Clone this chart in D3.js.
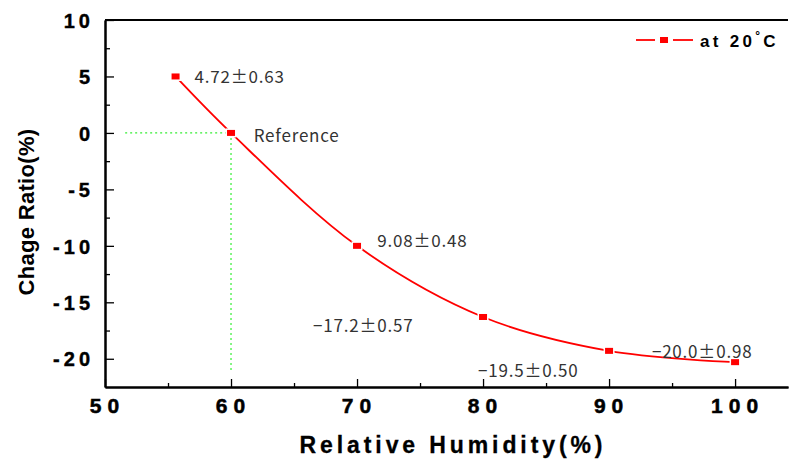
<!DOCTYPE html>
<html>
<head>
<meta charset="utf-8">
<script src="https://cdn.jsdelivr.net/npm/d3@7"></script>
<style>
  body { margin: 0; background: #fff; }
  #plot text { font-family: "Liberation Sans", Arial, sans-serif; }
  #plot text.note { font-family: "Noto Sans CJK KR", "Liberation Sans", sans-serif; }
</style>
</head>
<body>
<div id="plot"></div>
<script>
// data
var humidity = [55.6, 60, 70, 80, 90, 100];
var ratio = [5.0, 0, -10.0, -16.3, -19.3, -20.3];

// annotations (text + anchor in data units)
var noteText = ["4.72\u00b10.63", "Reference", "9.08\u00b10.48", "\u221217.2\u00b10.57", "\u221219.5\u00b10.50", "\u221220.0\u00b10.98"];
var noteX = [57.1, 61.8, 71.6, 66.5, 79.6, 93.4];
var noteY = [4.43, -0.8, -10.07, -17.6, -21.6, -19.93];

var xTicks = [50, 60, 70, 80, 90, 100];
var xMinor = [55, 65, 75, 85, 95];
var yTicks = [10, 5, 0, -5, -10, -15, -20];
var yMinor = [7.5, 2.5, -2.5, -7.5, -12.5, -17.5];

var width = 790, height = 459;
var margin = {left: 105, right: 2, top: 20, bottom: 72};

var svg = d3.select("#plot").append("svg")
    .attr("width", width)
    .attr("height", height);

var x = d3.scaleLinear().domain([50, 104.2]).range([margin.left, width - margin.right]);
var y = d3.scaleLinear().domain([-22.5, 10]).range([height - margin.bottom, margin.top]);

// reference guides
svg.append("line")
    .attr("x1", x(51.6)).attr("x2", x(60))
    .attr("y1", y(0)).attr("y2", y(0))
    .style("stroke", "#33ee33").style("stroke-width", 1.2)
    .style("stroke-dasharray", "2,3");
svg.append("line")
    .attr("x1", x(60)).attr("x2", x(60))
    .attr("y1", y(0)).attr("y2", y(-21))
    .style("stroke", "#33ee33").style("stroke-width", 1.2)
    .style("stroke-dasharray", "2,3");

// axes
var xAxis = svg.append("g")
    .attr("transform", "translate(0," + y.range()[0] + ")")
    .call(d3.axisBottom(x).tickValues(xTicks).tickSizeInner(-8).tickSizeOuter(0).tickFormat(function(d) { return d; }));
svg.append("g")
    .attr("transform", "translate(0," + y.range()[0] + ")")
    .call(d3.axisBottom(x).tickValues(xMinor).tickSizeInner(-4).tickSizeOuter(0).tickFormat(""));
xAxis.selectAll("text")
    .attr("dy", null).attr("y", 26)
    .attr("dx", 2)
    .style("font-size", "21px").style("font-weight", "bold")
    .style("letter-spacing", "6px").style("fill", "#000")
    .style("stroke", "#000").style("stroke-width", 0.5);

var yAxis = svg.append("g")
    .attr("transform", "translate(" + x.range()[0] + ",0)")
    .call(d3.axisLeft(y).tickValues(yTicks).tickSizeInner(-9).tickSizeOuter(0).tickPadding(11).tickFormat(function(d) { return String(d); }));
svg.append("g")
    .attr("transform", "translate(" + x.range()[0] + ",0)")
    .call(d3.axisLeft(y).tickValues(yMinor).tickSizeInner(-5).tickSizeOuter(0).tickFormat(""));
yAxis.selectAll("text")
    .attr("dy", "0.36em")
    .style("font-size", "20px").style("font-weight", "bold")
    .style("letter-spacing", "4px").style("fill", "#000")
    .style("stroke", "#000").style("stroke-width", 0.4);

svg.selectAll(".domain").style("stroke", "#000").style("stroke-width", 2);
svg.selectAll(".tick line").style("stroke", "#000").style("stroke-width", 1.3);

// top border
svg.append("line")
    .attr("x1", x.range()[0]).attr("x2", x.range()[1])
    .attr("y1", y.range()[1]).attr("y2", y.range()[1])
    .style("stroke", "#000").style("stroke-width", 2);

// axis titles
svg.append("text")
    .attr("x", 453).attr("y", 453)
    .attr("text-anchor", "middle")
    .style("font-size", "23px").style("font-weight", "bold")
    .style("letter-spacing", "3.9px")
    .style("stroke", "#000").style("stroke-width", 0.3)
    .text("Relative Humidity(%)");

svg.append("text")
    .attr("transform", "translate(34,212) rotate(-90)")
    .attr("text-anchor", "middle")
    .style("font-size", "22px").style("font-weight", "bold")
    .style("letter-spacing", "0.3px")
    .text("Chage Ratio(%)");

// curve
var pts = humidity.map(function(h, i) { return [h, ratio[i]]; });
var line = d3.line()
    .x(function(d) { return x(d[0]); })
    .y(function(d) { return y(d[1]); })
    .curve(d3.curveCatmullRom.alpha(0.5));

svg.append("path")
    .datum(pts)
    .attr("d", line)
    .style("fill", "none").style("stroke", "#ff0000").style("stroke-width", 1.8);

svg.selectAll(".dot")
    .data(pts)
    .enter().append("rect")
    .attr("class", "dot")
    .attr("x", function(d) { return x(d[0]) - 4; })
    .attr("y", function(d) { return y(d[1]) - 3; })
    .attr("width", 8).attr("height", 6)
    .style("fill", "#ff0000").style("stroke", "#fff").style("stroke-width", 3)
    .style("paint-order", "stroke");

// annotations
svg.selectAll(".note")
    .data(noteText)
    .enter().append("text")
    .attr("class", "note")
    .attr("x", function(d, i) { return x(noteX[i]); })
    .attr("y", function(d, i) { return y(noteY[i]); })
    .style("font-size", "17px").style("fill", "#333")
    .style("letter-spacing", "0.8px")
    .text(function(d) { return d; });

// legend
var leg = svg.append("g").attr("transform", "translate(636,40)");
leg.append("line").attr("x1", 0).attr("x2", 19).attr("y1", 0).attr("y2", 0)
    .style("stroke", "#ff0000").style("stroke-width", 1.8);
leg.append("line").attr("x1", 37).attr("x2", 57).attr("y1", 0).attr("y2", 0)
    .style("stroke", "#ff0000").style("stroke-width", 1.8);
leg.append("rect").attr("x", 24).attr("y", -3).attr("width", 8).attr("height", 6)
    .style("fill", "#ff0000");
var lt = leg.append("text").attr("x", 64).attr("y", 7)
    .style("font-size", "17px").style("font-weight", "bold")
    .style("letter-spacing", "3.3px");
lt.append("tspan").text("at 20");
lt.append("tspan").attr("dy", -7).style("font-size", "12px").text("\u00b0");
lt.append("tspan").attr("dy", 7).text("C");
</script>
</body>
</html>
